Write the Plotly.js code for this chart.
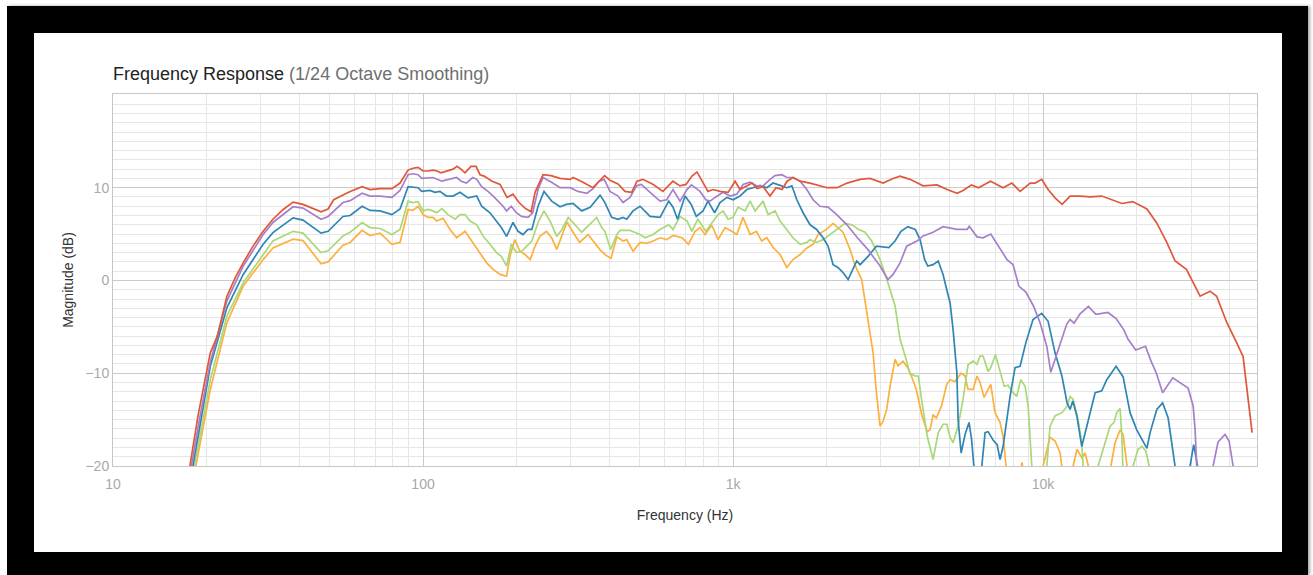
<!DOCTYPE html>
<html>
<head>
<meta charset="utf-8">
<script src="https://cdn.plot.ly/plotly-3.0.1.min.js"></script>
<style>
  html, body { margin:0; padding:0; width:1313px; height:575px; overflow:hidden; background:#ffffff; }
  #frame { position:absolute; left:7px; top:6px; width:1301px; height:569px; background:#000; box-shadow: 2px 0 3px rgba(0,0,0,0.35); }
  #card { position:absolute; left:34px; top:33px; width:1248px; height:519px; background:#fff; }
  #chart { position:absolute; left:0; top:0; width:1313px; height:575px; }
</style>
</head>
<body>
<div id="frame"></div>
<div id="card"></div>
<div id="chart"></div>
<script>
// ---- data: [frequency Hz, magnitude dB] ----
const redPts = [[17.0,-24],[17.7,-20],[18.8,-14.6],[20.6,-7.8],[21.7,-6.0],[23.3,-1.7],[24.8,0.3],[26.3,1.9],[28.3,3.7],[30.5,5.3],[32.8,6.6],[35.4,7.65],[38.1,8.45],[41.0,8.2],[46.9,7.4],[49.4,7.7],[51.5,8.7],[55.2,9.2],[58.2,9.6],[63.6,10.1],[67.5,9.8],[72.7,9.9],[79.4,9.9],[84.3,10.5],[86.8,11.2],[89.5,11.9],[92.8,12.1],[96.4,12.2],[100,11.8],[103.8,11.8],[107.7,11.9],[111,11.8],[114.3,11.6],[118.6,11.8],[125,12.0],[128.7,12.3],[132.6,12.0],[136.6,11.6],[142.8,12.3],[148.3,12.3],[152.7,11.4],[157.3,11.25],[167,10.7],[177.2,10.35],[181.2,9.8],[186.6,8.95],[195.1,9.3],[204,8.4],[213.3,7.8],[223.1,7.4],[229.8,9.5],[243.8,11.4],[258.8,11.3],[276.7,11.0],[298,10.9],[304.7,11.1],[323.4,10.7],[353.5,10.0],[372.4,10.8],[385,11.3],[401,10.8],[425.6,10.4],[448,9.6],[471,9.5],[490,10.7],[512,10.9],[553,10.35],[594,9.6],[640,10.7],[674,10.2],[705,10.35],[737,11.25],[765,11.7],[800,10.5],[830,9.6],[862,9.8],[908,9.6],[964,9.5],[1015,10.7],[1053,9.8],[1110,10.2],[1152,10.5],[1195,9.9],[1250,10.1],[1316,9.1],[1376,10.0],[1439,9.8],[1494,10.7],[1561,11.1],[1645,10.7],[1772,10.5],[1908,10.2],[2010,10.0],[2165,10.0],[2332,10.5],[2569,10.9],[2767,11.0],[3047,10.5],[3282,11.0],[3457,11.25],[3724,10.9],[4102,10.2],[4550,10.3],[4900,9.8],[5280,9.4],[5521,9.7],[5875,10.3],[6190,10.0],[6770,10.7],[7430,10.0],[7930,10.5],[8430,9.6],[9090,10.5],[9423,10.5],[9900,10.9],[10380,9.8],[10930,8.9],[11520,8.2],[12220,9.1],[13160,9.1],[14180,9.0],[15470,9.1],[16650,8.7],[17950,8.3],[19450,8.5],[21620,7.7],[23260,6.2],[25060,4.1],[26660,2.1],[29000,1.2],[32100,-1.7],[34570,-1.15],[36300,-1.7],[39100,-4.5],[42100,-6.7],[44170,-8.2],[47230,-16.4]];

const purplePts = [[17.2,-24],[17.9,-20],[19.0,-15],[20.6,-8.8],[23.3,-2.2],[26.3,1.55],[30.5,4.95],[32.8,6.25],[38.1,7.95],[41.0,7.8],[46.9,6.6],[49.4,6.9],[55.2,8.4],[58.2,8.6],[63.6,9.4],[67.5,9.1],[72.7,9.1],[79.4,8.95],[84.3,9.7],[89.5,11.4],[92.8,11.5],[96.4,11.4],[99,11.0],[107.7,11.1],[114.9,10.7],[120.4,10.9],[128.4,11.1],[132.8,10.7],[138,10.5],[144.6,11.1],[149,10.9],[154.6,10.1],[162,9.6],[170,8.95],[177.2,8.4],[181.2,8.0],[186,7.5],[192.6,8.0],[200,7.3],[208,6.9],[218.1,6.8],[225.8,7.3],[235,9.8],[243.8,11.1],[262,10.5],[276.7,10.0],[298,10.0],[316,9.6],[337.8,9.4],[353.5,9.9],[369.6,10.7],[384,10.9],[401,9.6],[425.6,9.1],[441.7,8.4],[465.2,8.95],[488,10.2],[506,10.35],[540,9.5],[581.5,8.55],[611,8.7],[640.4,9.8],[674.5,8.55],[710,9.8],[734,10.3],[782.6,9.6],[817,8.7],[843,8.55],[875,8.95],[928.4,9.5],[977.9,9.1],[1028,9.3],[1077,10.35],[1135,10.6],[1190,10.2],[1250,10.2],[1316,10.9],[1366,11.3],[1437,11.4],[1490,11.1],[1561,11.1],[1645,10.7],[1730,9.8],[1812,8.7],[1908,8.0],[2025,7.9],[2160,7.1],[2330,6.0],[2518,4.6],[2720,3.35],[2980,1.55],[3160,0.1],[3282,0.65],[3457,1.9],[3630,3.7],[3920,4.25],[4102,4.8],[4417,5.2],[4757,5.8],[5270,5.5],[5690,5.5],[5780,5.85],[6120,4.7],[6404,4.6],[6780,5.0],[7265,3.35],[7650,2.25],[8002,1.7],[8350,-0.6],[8800,-1.25],[9310,-2.75],[9779,-4.55],[10280,-7.1],[10590,-9.9],[10930,-8.5],[11350,-6.7],[11920,-4.7],[12220,-4.2],[12590,-4.6],[13160,-3.6],[14000,-2.8],[14800,-3.65],[16200,-3.45],[17200,-4.1],[18200,-5.3],[18800,-6.35],[19900,-7.5],[21400,-7.1],[22300,-8.7],[23200,-10],[24300,-12.1],[26200,-10.5],[28200,-11.2],[29360,-11.6],[30470,-13.5],[30930,-16.1],[31300,-20],[33000,-25],[35350,-20],[36680,-17.4],[38650,-16.6],[39800,-17.3],[41020,-20],[42000,-25]];

const bluePts = [[17.4,-24],[18.1,-20],[20.6,-9.25],[23.3,-2.95],[26.3,0.65],[30.5,3.9],[32.8,5.15],[38.1,6.75],[41.0,6.5],[46.9,5.1],[49.4,5.3],[55.2,6.9],[58.2,7.0],[63.6,8.0],[67.5,7.55],[72.7,7.5],[79.4,7.1],[84.3,7.7],[89.5,10.1],[92.8,10.05],[96.4,10.0],[99,9.6],[105.3,9.7],[109.3,9.5],[113.4,9.6],[118.9,9.1],[125,9.1],[131.6,9.5],[139.7,8.9],[149,9.1],[154.6,8.0],[164.4,7.3],[172.6,6.4],[178.9,5.7],[186,4.75],[195.1,6.25],[202.5,5.3],[210,4.95],[218.1,5.5],[224.4,5.5],[235,8.0],[245.6,9.6],[260,8.55],[276.7,7.95],[290,8.2],[304.7,8.3],[325,7.5],[346,7.9],[372.4,9.2],[386,8.4],[406,6.8],[425.6,6.6],[441.7,6.8],[454,6.6],[475.7,7.5],[501.2,8.0],[540,6.9],[581.5,6.8],[620,8.55],[640.4,7.9],[662,6.6],[700,9.1],[733,8.2],[761,6.9],[800,7.5],[830,8.55],[872,7.3],[908,8.4],[955,8.95],[1000,8.7],[1053,9.1],[1107,9.8],[1160,10.0],[1222,10.25],[1285,10.0],[1346,10.5],[1418,10.25],[1490,10.0],[1548,10.2],[1606,8.7],[1682,7.3],[1772,6.0],[1860,5.5],[1951,4.6],[2025,3.7],[2102,1.7],[2180,1.4],[2263,0.85],[2350,0.1],[2438,1.2],[2505,2.1],[2569,1.7],[2726,2.6],[2900,3.7],[3180,3.55],[3331,4.25],[3480,5.3],[3660,5.8],[3870,5.5],[4010,4.4],[4150,2.25],[4250,1.55],[4417,1.7],[4590,2.1],[4757,0.65],[4890,-1.0],[5012,-2.4],[5125,-5.3],[5270,-9.9],[5320,-15.0],[5440,-18.6],[5603,-16.6],[5770,-15.3],[5880,-17.1],[5990,-20],[6150,-25],[6344,-20],[6500,-16.4],[6646,-16.3],[6898,-17.2],[7110,-17.7],[7265,-19.3],[7430,-17.9],[7826,-12.5],[8120,-9.4],[8430,-9.25],[8800,-6.7],[9280,-4.2],[9900,-3.55],[10380,-4.4],[10930,-7.8],[11500,-10.3],[11950,-13.2],[12220,-13.9],[12470,-13.0],[12850,-14.6],[13330,-17.9],[14000,-15.0],[14720,-12.1],[15460,-11.9],[16050,-10.7],[17200,-9.25],[18120,-10.4],[19080,-14.25],[20050,-16.1],[21620,-18.1],[22140,-16.4],[23270,-13.9],[24300,-13.2],[25310,-14.8],[26660,-20],[28000,-25],[29800,-20],[30600,-17.7],[31500,-20],[32500,-25]];

const greenPts = [[17.7,-24],[18.3,-20],[20.6,-10.7],[23.3,-3.85],[26.3,-0.25],[30.5,2.8],[32.8,4.25],[38.1,5.3],[41.0,5.1],[46.9,3.0],[49.4,3.2],[55.2,4.8],[58.2,5.2],[63.6,6.25],[67.5,5.7],[72.7,5.6],[79.4,4.95],[84.3,5.5],[89.5,8.55],[92.8,8.4],[96.4,8.5],[100,7.5],[103.8,7.65],[107.7,7.5],[110.7,7.3],[115,7.75],[120.4,7.1],[126.9,6.6],[131.6,7.1],[136.6,7.1],[141.8,6.4],[149,6.0],[156.2,4.8],[164.4,3.9],[172.6,3.0],[178.9,2.6],[186,1.55],[192.6,3.9],[200,3.0],[208,3.15],[215.7,3.7],[224.4,4.25],[235,6.25],[245.6,7.5],[257,6.4],[270,4.75],[280.5,5.5],[294,6.8],[304.7,6.25],[325,5.2],[350,6.25],[363,6.8],[377,5.7],[386,5.3],[403,3.35],[422,4.95],[432,5.4],[465.2,5.4],[501.2,4.95],[520,4.6],[552,4.95],[581.5,5.5],[620,6.0],[640.4,5.5],[674.5,6.9],[711,6.4],[736,5.3],[770,6.6],[817,5.3],[862,6.4],[894.6,7.1],[928.4,7.5],[963.6,6.6],[1000,6.8],[1038,7.9],[1093,7.5],[1135,8.55],[1178,7.5],[1250,8.55],[1297,7.1],[1366,7.5],[1418,6.4],[1490,5.5],[1561,4.6],[1645,3.9],[1730,4.1],[1772,4.4],[1860,4.1],[1951,4.4],[2102,5.2],[2180,5.5],[2297,6.15],[2420,6.0],[2540,5.5],[2665,5.2],[2800,4.25],[2980,2.25],[3135,0.1],[3331,-2.75],[3457,-6.35],[3590,-8.15],[3724,-10.1],[3870,-10.3],[3960,-10.3],[4070,-13.2],[4230,-16.8],[4417,-19.3],[4590,-16.4],[4757,-15.5],[4890,-15.5],[5012,-16.9],[5125,-17.5],[5320,-15.7],[5521,-12.8],[5729,-9.05],[5950,-8.7],[6120,-9.05],[6263,-8.15],[6404,-8.15],[6646,-9.8],[6780,-9.4],[7020,-8.0],[7265,-9.8],[7490,-11.4],[7712,-11.3],[8002,-12.1],[8220,-12.5],[8470,-10.7],[8750,-11.4],[8950,-13.55],[9195,-20],[9700,-25],[10280,-20],[10530,-15.7],[10930,-14.6],[11500,-14.25],[11950,-13.55],[12220,-12.5],[12500,-12.8],[12970,-15.0],[13330,-17.5],[13460,-20],[14200,-25],[15050,-20],[15850,-17.5],[16450,-15.7],[16940,-15.3],[17280,-14.25],[17720,-13.8],[17950,-16.8],[18080,-20],[18800,-25],[19510,-20],[20250,-18.2],[20860,-17.9],[21460,-18.4],[21980,-20],[22800,-25]];

const orangePts = [[17.9,-24],[18.5,-20],[20.6,-11.75],[23.3,-4.55],[26.3,-0.6],[30.5,2.25],[32.8,3.5],[38.1,4.45],[41.0,4.3],[46.9,1.8],[49.4,2.0],[55.2,3.8],[58.2,4.1],[63.6,5.4],[67.5,4.85],[72.7,5.1],[79.4,3.9],[84.3,4.1],[89.5,7.65],[92.8,7.55],[96.4,8.0],[100,7.1],[103.8,6.8],[107.7,6.8],[110.7,6.4],[116,6.7],[122.2,5.5],[128.4,4.6],[136.6,5.3],[143.5,4.25],[152.7,3.0],[160.4,1.9],[168.3,1.2],[177.2,0.65],[186,0.45],[190.8,2.6],[197.6,4.4],[205.4,3.15],[213.3,2.8],[221.6,2.25],[229.8,3.7],[238.5,4.8],[250,5.3],[260,4.6],[270,3.35],[282.9,5.2],[291.4,6.3],[304.7,5.2],[320,4.1],[340.6,4.95],[353.5,4.25],[372.4,3.3],[389,2.7],[404,2.4],[422,4.7],[441.7,4.25],[454,4.4],[475.7,3.15],[501.2,4.1],[526,4.0],[552,4.25],[581.5,4.6],[611,4.4],[640.4,4.85],[685,4.6],[718,3.9],[754,5.3],[782.6,5.7],[812,4.95],[854,5.95],[894.6,4.4],[942,5.7],[990,5.3],[1028,4.95],[1077,6.8],[1135,4.95],[1190,5.3],[1237,4.25],[1285,4.6],[1346,3.55],[1418,2.8],[1490,1.4],[1561,2.25],[1645,2.8],[1730,3.5],[1812,3.9],[1880,4.95],[2000,5.5],[2102,6.15],[2180,5.7],[2263,5.2],[2384,3.35],[2470,1.7],[2600,0.1],[2726,-4.2],[2829,-7.8],[2900,-12.1],[2980,-15.7],[3047,-15.2],[3130,-13.9],[3210,-11.4],[3331,-8.5],[3406,-9.2],[3535,-8.7],[3660,-9.4],[3760,-10.3],[3900,-11.75],[4070,-14.6],[4230,-16.3],[4320,-16.1],[4417,-14.5],[4530,-14.8],[4700,-13.55],[4890,-11.2],[5012,-10.7],[5200,-10.9],[5440,-10.0],[5603,-10.3],[5729,-11.75],[5950,-11.75],[6120,-10.3],[6263,-11.0],[6450,-12.6],[6646,-11.75],[6780,-11.2],[7000,-14.25],[7265,-15.3],[7430,-16.8],[7598,-20],[8100,-25],[8550,-19.6],[9000,-25],[10000,-20],[10530,-16.9],[10930,-17.3],[11350,-18.6],[11500,-20],[12000,-25],[12500,-20],[12870,-18.2],[13330,-19.1],[13660,-18.6],[14000,-20],[15000,-25],[16550,-20],[17070,-17.5],[17720,-16.1],[18120,-16.6],[18660,-20],[19500,-25]];

const seriesNames = ['Orange', 'Green', 'Blue', 'Purple', 'Red'];
const seriesColors = ['#FDB03E', '#A8D877', '#2F86B4', '#A67FCB', '#E0573A'];
const seriesPts = [orangePts, greenPts, bluePts, purplePts, redPts];

const xTickVals = [10, 100, 1000, 10000];
const xTickText = ['10', '100', '1k', '10k'];
const xMinorVals = [20,30,40,50,60,70,80,90,200,300,400,500,600,700,800,900,2000,3000,4000,5000,6000,7000,8000,9000,20000,30000,40000];
const yTickVals = [-20, -10, 0, 10];

const traces = seriesPts.map((pts, i) => ({
  type: 'scatter',
  mode: 'lines',
  name: seriesNames[i],
  x: pts.map(p => p[0]),
  y: pts.map(p => p[1]),
  line: { color: seriesColors[i], width: 1.7 },
  hoverinfo: 'skip'
}));

const FONT = 'Liberation Sans, Arial, Helvetica, sans-serif';

const layout = {
  width: 1313,
  height: 575,
  paper_bgcolor: 'rgba(0,0,0,0)',
  plot_bgcolor: '#ffffff',
  margin: { l: 113, r: 56, t: 94, b: 109, pad: 0 },
  showlegend: false,
  font: { family: FONT, size: 14, color: '#333' },
  title: {
    text: 'Frequency Response <span style="color:#6f6f6f">(1/24 Octave Smoothing)</span>',
    font: { family: FONT, size: 18, color: '#222' },
    xref: 'container', yref: 'container',
    x: 113 / 1313, xanchor: 'left',
    y: 1 - 74 / 575, yanchor: 'middle'
  },
  xaxis: {
    type: 'log',
    range: [1, 4.69],
    tickmode: 'array',
    tickvals: xTickVals,
    ticktext: xTickText,
    ticks: 'outside', ticklen: 5, tickcolor: 'rgba(0,0,0,0)',
    tickfont: { family: FONT, size: 14, color: '#a8a8a8' },
    showgrid: true, gridcolor: '#cbcbcb', gridwidth: 1,
    minor: { tickmode: 'array', tickvals: xMinorVals, showgrid: true, gridcolor: '#e6e6e6', gridwidth: 1, ticks: '' },
    zeroline: false,
    showline: true, linecolor: '#c6c6c6', linewidth: 1, mirror: true,
    title: { text: 'Frequency (Hz)', font: { family: FONT, size: 14, color: '#333' }, standoff: 19 }
  },
  yaxis: {
    range: [-20, 20.1],
    tickmode: 'array',
    tickvals: yTickVals,
    ticks: '',
    tickfont: { family: FONT, size: 14, color: '#a8a8a8' },
    showgrid: true, gridcolor: '#cbcbcb', gridwidth: 1,
    minor: { dtick: 1, showgrid: true, gridcolor: '#e6e6e6', gridwidth: 1, ticks: '' },
    zeroline: false,
    showline: true, linecolor: '#c6c6c6', linewidth: 1, mirror: true,
    title: { text: 'Magnitude (dB)', font: { family: FONT, size: 14, color: '#333' }, standoff: 8 }
  }
};

Plotly.newPlot('chart', traces, layout, { staticPlot: true, displayModeBar: false });
</script>
</body>
</html>
